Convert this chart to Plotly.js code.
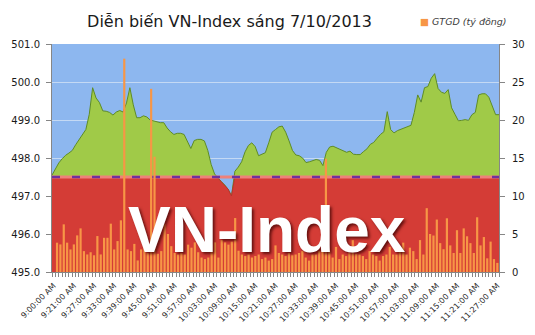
<!DOCTYPE html>
<html>
<head>
<meta charset="utf-8">
<script src="https://cdn.plot.ly/plotly-3.0.1.min.js"></script>
<style>html,body{margin:0;padding:0;background:#fff;}#chart{width:535px;height:335px;}</style>
</head>
<body>
<div id="chart"></div>
<script>
// Categories: 1-minute steps of the morning session
var times = [
"9:00:00 AM","9:16:00 AM","9:17:00 AM","9:18:00 AM","9:19:00 AM","9:20:00 AM","9:21:00 AM","9:22:00 AM","9:23:00 AM","9:24:00 AM",
"9:25:00 AM","9:26:00 AM","9:27:00 AM","9:28:00 AM","9:29:00 AM","9:30:00 AM","9:31:00 AM","9:32:00 AM","9:33:00 AM","9:34:00 AM",
"9:35:00 AM","9:36:00 AM","9:37:00 AM","9:38:00 AM","9:39:00 AM","9:40:00 AM","9:41:00 AM","9:42:00 AM","9:43:00 AM","9:44:00 AM",
"9:45:00 AM","9:46:00 AM","9:47:00 AM","9:48:00 AM","9:49:00 AM","9:50:00 AM","9:51:00 AM","9:52:00 AM","9:53:00 AM","9:54:00 AM",
"9:55:00 AM","9:56:00 AM","9:57:00 AM","9:58:00 AM","9:59:00 AM","10:00:00 AM","10:01:00 AM","10:02:00 AM","10:03:00 AM","10:04:00 AM",
"10:05:00 AM","10:06:00 AM","10:07:00 AM","10:08:00 AM","10:09:00 AM","10:10:00 AM","10:11:00 AM","10:12:00 AM","10:13:00 AM","10:14:00 AM",
"10:15:00 AM","10:16:00 AM","10:17:00 AM","10:18:00 AM","10:19:00 AM","10:20:00 AM","10:21:00 AM","10:22:00 AM","10:23:00 AM","10:24:00 AM",
"10:25:00 AM","10:26:00 AM","10:27:00 AM","10:28:00 AM","10:29:00 AM","10:30:00 AM","10:31:00 AM","10:32:00 AM","10:33:00 AM","10:34:00 AM",
"10:35:00 AM","10:36:00 AM","10:37:00 AM","10:38:00 AM","10:39:00 AM","10:40:00 AM","10:41:00 AM","10:42:00 AM","10:43:00 AM","10:44:00 AM",
"10:45:00 AM","10:46:00 AM","10:47:00 AM","10:48:00 AM","10:49:00 AM","10:50:00 AM","10:51:00 AM","10:52:00 AM","10:53:00 AM","10:54:00 AM",
"10:55:00 AM","10:56:00 AM","10:57:00 AM","10:58:00 AM","10:59:00 AM","11:00:00 AM","11:01:00 AM","11:02:00 AM","11:03:00 AM","11:04:00 AM",
"11:05:00 AM","11:06:00 AM","11:07:00 AM","11:08:00 AM","11:09:00 AM","11:10:00 AM","11:11:00 AM","11:12:00 AM","11:13:00 AM","11:14:00 AM",
"11:15:00 AM","11:16:00 AM","11:17:00 AM","11:18:00 AM","11:19:00 AM","11:20:00 AM","11:21:00 AM","11:22:00 AM","11:23:00 AM","11:24:00 AM",
"11:25:00 AM","11:26:00 AM","11:27:00 AM"
];

// Tick labels shown on the x axis
var xTickLabels = [
"9:00:00 AM","9:21:00 AM","9:27:00 AM","9:33:00 AM","9:39:00 AM","9:45:00 AM","9:51:00 AM","9:57:00 AM",
"10:03:00 AM","10:09:00 AM","10:15:00 AM","10:21:00 AM","10:27:00 AM","10:33:00 AM","10:39:00 AM","10:45:00 AM",
"10:51:00 AM","10:57:00 AM","11:03:00 AM","11:09:00 AM","11:15:00 AM","11:21:00 AM","11:27:00 AM"
];

// VN-Index values
var vnIndex = [
497.55,497.71,497.87,497.98,498.07,498.13,498.20,498.35,498.48,498.59,
498.75,499.15,499.85,499.58,499.46,499.24,499.23,499.20,499.13,499.21,
499.25,499.21,499.45,499.85,499.40,499.06,499.06,499.11,499.08,499.00,
498.97,498.95,498.93,498.93,498.79,498.69,498.62,498.65,498.65,498.62,
498.42,498.25,498.46,498.49,498.49,498.45,498.20,497.83,497.58,497.47,
497.38,497.29,497.18,497.00,497.65,497.76,497.90,498.16,498.33,498.40,
498.30,498.06,498.10,498.14,498.40,498.68,498.75,498.82,498.84,498.68,
498.45,498.20,498.08,498.06,498.00,497.88,497.90,497.93,497.96,497.94,
497.80,498.15,498.29,498.31,498.27,498.24,498.20,498.15,498.18,498.10,
498.09,498.09,498.17,498.24,498.36,498.41,498.52,498.62,498.69,499.22,
498.75,498.66,498.72,498.75,498.78,498.82,498.86,499.20,499.66,499.47,
499.85,499.88,500.10,500.22,499.83,499.73,499.70,499.80,499.32,499.15,
498.98,498.99,499.01,498.99,499.14,499.20,499.66,499.69,499.69,499.60,
499.37,499.14,499.14
];

// GTGD (ty dong) values
var gtgd = [
0,3.86,3.63,6.27,3.86,2.97,3.63,4.82,5.74,2.75,
2.31,2.6,2.2,4.73,2.31,4.5,4.5,6.36,2.97,4.07,
6.8,28.07,2.97,2.75,3.7,1.52,2.97,3.63,2.5,24.1,
15.17,2.4,2.75,6.3,5.0,3.4,2.5,2.3,2.5,2.3,
3.6,3.2,3.9,2.6,1.9,1.7,1.9,3.6,3.9,1.9,
4.2,3.9,3.6,4.0,7.1,2.8,2.3,2.1,2.3,1.9,
2.1,2.3,1.7,1.9,1.5,1.7,3.5,2.5,2.3,2.1,
2.5,2.2,2.3,2.5,2.75,1.9,1.5,2.3,2.3,2.75,
4.7,14.9,2.75,1.9,3.3,1.7,2.3,2.1,2.5,4.2,
2.4,2.3,2.1,1.7,2.75,2.3,2.1,1.5,2.1,2.3,
3.3,2.3,2.3,2.8,3.86,2.3,3.2,2.75,1.7,4.2,
2.3,8.4,5.0,4.8,6.9,3.8,3.0,7.07,3.5,2.5,
5.5,2.5,5.74,4.7,3.8,2.5,7.2,3.5,4.6,1.8,
4.0,1.7,1.2
];

// Reference (previous close) level
var refPrice = 497.5;

var belowRef = vnIndex.map(function(v){ return Math.min(v, refPrice); });
var refLine = times.map(function(){ return refPrice; });
var ticktext = times.map(function(t){ return xTickLabels.indexOf(t) >= 0 ? t : ''; });

var traces = [
  {x: times, y: vnIndex, type: 'scatter', mode: 'lines', fill: 'tozeroy',
   fillcolor: '#A0CA48', line: {color: '#5E8C26', width: 1}, xaxis: 'x', yaxis: 'y',
   hoverinfo: 'skip', showlegend: false},
  {x: times, y: belowRef, type: 'scatter', mode: 'lines', fill: 'tozeroy',
   fillcolor: '#D43C36', line: {color: '#B8322D', width: 1}, xaxis: 'x', yaxis: 'y',
   hoverinfo: 'skip', showlegend: false},
  {x: times, y: refLine, type: 'scatter', mode: 'lines',
   line: {color: '#EE817A', width: 3}, xaxis: 'x', yaxis: 'y',
   hoverinfo: 'skip', showlegend: false},
  {x: times, y: refLine, type: 'scatter', mode: 'lines',
   line: {color: '#7030A0', width: 2.5, dash: '8px,12px'}, xaxis: 'x', yaxis: 'y',
   hoverinfo: 'skip', showlegend: false},
  {x: times, y: gtgd, type: 'bar', name: 'GTGD (tỷ đồng)',
   marker: {color: '#F79646', line: {width: 0}}, xaxis: 'x2', yaxis: 'y2', showlegend: false}
];

var axisColor = '#868686';
var layout = {
  width: 535, height: 335,
  margin: {l: 52, r: 36, t: 44, b: 63, pad: 0},
  paper_bgcolor: '#ffffff',
  plot_bgcolor: '#8DB7EF',
  font: {family: 'DejaVu Sans', color: '#222222'},
  bargap: 0.35,
  showlegend: false,
  title: {text: 'Diễn biến VN-Index sáng 7/10/2013', font: {family: 'DejaVu Sans', size: 16, color: '#1a1a1a'},
          x: 0.429, xref: 'container', xanchor: 'center', y: 0.937, yref: 'container', yanchor: 'middle'},
  xaxis: {type: 'category', range: [0, times.length - 1], visible: false, fixedrange: true},
  yaxis: {range: [495, 501], dtick: 1, tick0: 495, tickformat: '.1f', side: 'left', anchor: 'x',
          showgrid: true, gridcolor: '#C4D9F4', gridwidth: 1, zeroline: false,
          showline: true, linecolor: axisColor, linewidth: 1,
          ticks: 'outside', ticklen: 5, tickcolor: axisColor, ticklabelstandoff: 4,
          tickfont: {size: 10, color: '#1a1a1a'}},
  xaxis2: {type: 'category', overlaying: 'x', anchor: 'y2', side: 'bottom',
           range: [-0.5, times.length - 0.5],
           tickmode: 'array', tickvals: times, ticktext: ticktext, tickangle: -45,
           tickson: 'boundaries', ticks: 'outside', ticklen: 4, tickcolor: axisColor,
           ticklabelstandoff: 5,
           showline: true, linecolor: axisColor, linewidth: 1, showgrid: false, zeroline: false,
           tickfont: {size: 8, color: '#2a2a2a'}},
  yaxis2: {overlaying: 'y', anchor: 'x2', side: 'right', range: [0, 30], dtick: 5, tick0: 0,
           showgrid: false, zeroline: false, showline: true, linecolor: axisColor, linewidth: 1,
           ticks: 'outside', ticklen: 5, tickcolor: axisColor, ticklabelstandoff: 5,
           tickfont: {size: 10, color: '#1a1a1a'}},
  annotations: [
    {text: 'VN-Index', xref: 'paper', yref: 'paper', x: 0.480, y: 0.186,
     xanchor: 'center', yanchor: 'middle', showarrow: false,
     font: {family: 'Liberation Sans', size: 64, color: '#ffffff', weight: 'bold',
            shadow: '2px 2px 3px rgba(60,0,0,0.75)'}},
    {text: '<span style="color:#F79646">■</span> GTGD (tỷ đồng)', xref: 'paper', yref: 'paper',
     x: 0.8186, y: 1.1007, xanchor: 'left', yanchor: 'middle', showarrow: false,
     font: {family: 'DejaVu Sans', size: 9.5, color: '#404040', style: 'italic'}}
  ]
};

Plotly.newPlot('chart', traces, layout, {displayModeBar: false, staticPlot: true});
</script>
</body>
</html>
